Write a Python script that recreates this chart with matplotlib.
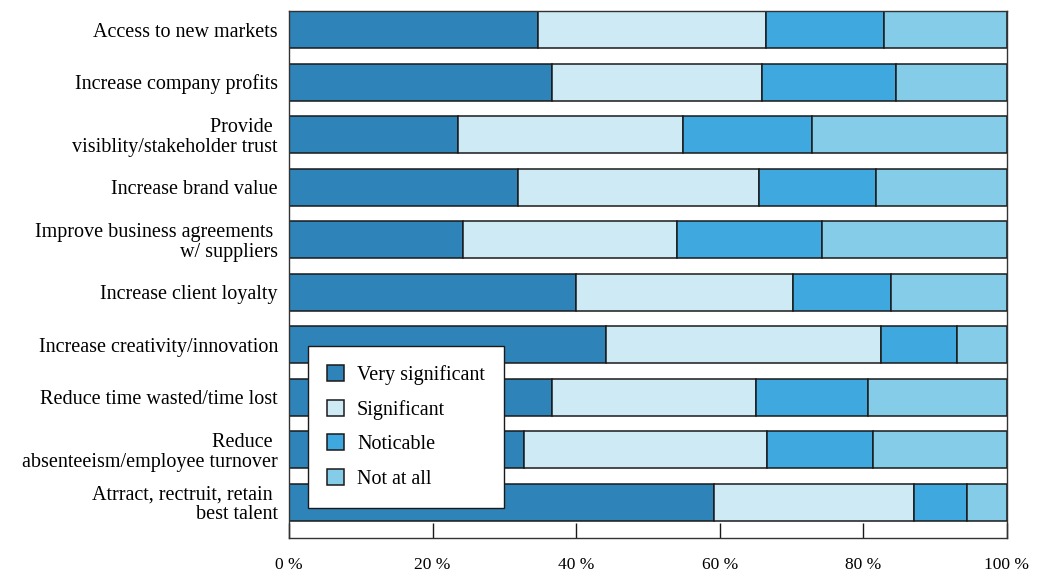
import matplotlib
matplotlib.use("Agg")
import matplotlib.pyplot as plt
import numpy as np

categories = [
    "Access to new markets",
    "Increase company profits",
    "Provide \nvisiblity/stakeholder trust",
    "Increase brand value",
    "Improve business agreements \nw/ suppliers",
    "Increase client loyalty",
    "Increase creativity/innovation",
    "Reduce time wasted/time lost",
    "Reduce \nabsenteeism/employee turnover",
    "Atrract, rectruit, retain \nbest talent",
]
very_significant = [34.7, 36.6, 23.5, 31.9, 24.2, 40.0, 44.2, 36.6, 32.7, 59.2]
significant      = [31.7, 29.3, 31.4, 33.5, 29.9, 30.2, 38.2, 28.5, 33.9, 27.8]
noticable        = [16.5, 18.6, 17.9, 16.3, 20.2, 13.7, 10.7, 15.6, 14.8, 7.4]
not_at_all       = [17.1, 15.5, 27.2, 18.3, 25.7, 16.1, 6.9, 19.3, 18.6, 5.6]
series_names = ["Very significant", "Significant", "Noticable", "Not at all"]
x_ticks = [0, 20, 40, 60, 80, 100]
x_tick_labels = ["0 %", "20 %", "40 %", "60 %", "80 %", "100 %"]

colors = ["#2E83B8", "#CEEBF5", "#3FA9DF", "#85CCE8"]

plt.rcParams['font.family'] = ['Liberation Serif', 'DejaVu Serif']

fig = plt.figure(figsize=(10.4, 5.74), dpi=100)
ax = fig.add_axes([289/1040, 1 - 538/574, (1007-289)/1040, (538-11)/574])

y = np.arange(len(categories))
h = 0.705
left = np.zeros(len(categories))
for vals, name, c in zip([very_significant, significant, noticable, not_at_all], series_names, colors):
    ax.barh(y, vals, left=left, height=h, color=c, edgecolor="#1a1a1a",
            linewidth=1.1, label=name, zorder=2)
    left = left + np.array(vals)

ax.set_xlim(0, 100)
ax.set_ylim(9 + h/2 + 0.333, -h/2)
ax.set_yticks(y)
ax.set_yticklabels(categories, fontsize=14.5, linespacing=1.04)
ax.tick_params(axis='y', length=0, pad=8)
ax.set_xticks(x_ticks)
ax.set_xticklabels(x_tick_labels, fontsize=12.5)
ax.tick_params(axis='x', direction='in', length=10.5, width=1.0, color="#1a1a1a", pad=14)
for s in ax.spines.values():
    s.set_color("#333333")
    s.set_linewidth(1.0)

leg = ax.legend(loc='upper left', bbox_to_anchor=(0.026, 0.364), frameon=True,
                fancybox=False, framealpha=1, edgecolor="#1a1a1a", fontsize=14.5,
                handlelength=0.85, handleheight=0.85, handletextpad=0.65,
                labelspacing=0.72, borderpad=0.95, borderaxespad=0)
leg.get_frame().set_linewidth(1.0)
leg.set_zorder(5)

fig.savefig("out.png", dpi=100)
